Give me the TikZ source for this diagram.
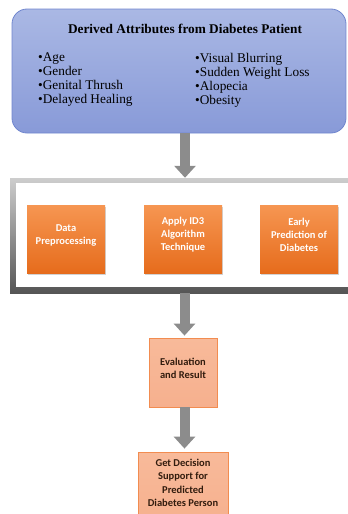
\documentclass[tikz,border=0pt]{standalone}
\usepackage{fontspec}
\setmainfont{Liberation Serif}
\newfontfamily\carlito{Carlito}
\usetikzlibrary{shadows,arrows.meta}
\definecolor{topedge}{RGB}{112,134,206}
\definecolor{toptop}{RGB}{170,184,228}
\definecolor{topbot}{RGB}{136,154,216}
\definecolor{ortop}{RGB}{246,150,82}
\definecolor{orbot}{RGB}{230,108,28}
\definecolor{saltop}{RGB}{248,186,154}
\definecolor{salbot}{RGB}{246,176,142}
\definecolor{saledge}{RGB}{242,140,80}
\definecolor{arrowgray}{RGB}{140,140,140}
\definecolor{frtop}{RGB}{205,205,205}
\definecolor{frbot}{RGB}{85,85,85}
\definecolor{darktext}{RGB}{50,28,14}
\begin{document}
\begin{tikzpicture}[x=1pt,y=-1pt,
  topbox/.style={draw=topedge, line width=0.8pt, rounded corners=15pt,
    top color=toptop, bottom color=topbot, minimum width=334pt, minimum height=124pt, inner sep=0pt},
  titletext/.style={font=\fontsize{13.3}{14}\selectfont\bfseries, inner sep=0pt},
  listtext/.style={font=\fontsize{13.3}{14}\selectfont, align=left, inner sep=0pt, anchor=north west},
  framebox/.style={top color=frtop, bottom color=frbot, minimum width=350pt, minimum height=115pt, inner sep=0pt},
  innerbox/.style={fill=white, minimum width=338pt, minimum height=104pt, inner sep=0pt},
  obox/.style={top color=ortop, bottom color=orbot, minimum width=78pt, minimum height=68pt, inner sep=0pt,
    drop shadow={opacity=0.35, shadow xshift=1pt, shadow yshift=-1.5pt}},
  otext/.style={font=\carlito\fontsize{10.5}{13}\selectfont\bfseries, text=white, align=center, inner sep=0pt},
  sbox/.style={draw=saledge, line width=0.8pt, top color=saltop, bottom color=salbot, inner sep=0pt},
  stext/.style={font=\carlito\fontsize{10.5}{13.4}\selectfont\bfseries, text=darktext, align=center, inner sep=0pt},
  bigarrow/.style={draw=arrowgray, line width=10pt, -{Triangle[width=21pt,length=12pt]}}
]
\useasboundingbox (0,0) rectangle (348,514);
\clip (0,0) rectangle (348,514);

% top box
\node[topbox] (attr) at (179,71) {};
\node[titletext] (title) at (185,29) {Derived Attributes from Diabetes Patient};
\node[listtext] (colL) at (38,53) {\textbullet Age\\ \textbullet Gender\\ \textbullet Genital Thrush\\ \textbullet Delayed Healing};
\node[listtext] (colR) at (195,53) {\textbullet Visual Blurring\\ \textbullet Sudden Weight Loss\\ \textbullet Alopecia\\ \textbullet Obesity};

% frame
\node[framebox] (frame) at (185,235.5) {};
\node[innerbox] (inner) at (185,235) {};

% orange boxes
\node[obox] (dp) at (66,239) {};
\node[otext] (dpt) at ([yshift=4pt]dp.center) {Data\\Preprocessing};
\node[obox] (id3) at (183,239) {};
\node[otext] (id3t) at ([yshift=4pt]id3.center) {Apply ID3\\Algorithm\\Technique};
\node[obox] (ep) at (299,239) {};
\node[otext] (ept) at ([yshift=4pt]ep.center) {Early\\Prediction of\\Diabetes};

% evaluation
\node[sbox, minimum width=68pt, minimum height=69pt] (eval) at (183,372.5) {};
\node[stext] (evalt) at ([yshift=4pt]eval.center) {Evaluation\\and Result};

% decision
\node[sbox, minimum width=90pt, minimum height=72pt] (dec) at (183,488) {};
\node[stext] (dect) at (183,483) {Get Decision\\Support for\\Predicted\\Diabetes Person};

% arrows
\draw[bigarrow] ([xshift=6pt]attr.south) -- (frame.north);
\draw[bigarrow, shorten >=2pt] ([xshift=-0.5pt]frame.south) -- ([xshift=1.5pt]eval.north);
\draw[bigarrow, shorten >=3pt] ([xshift=1.5pt]eval.south) -- ([xshift=1.5pt]dec.north);
\end{tikzpicture}
\end{document}
